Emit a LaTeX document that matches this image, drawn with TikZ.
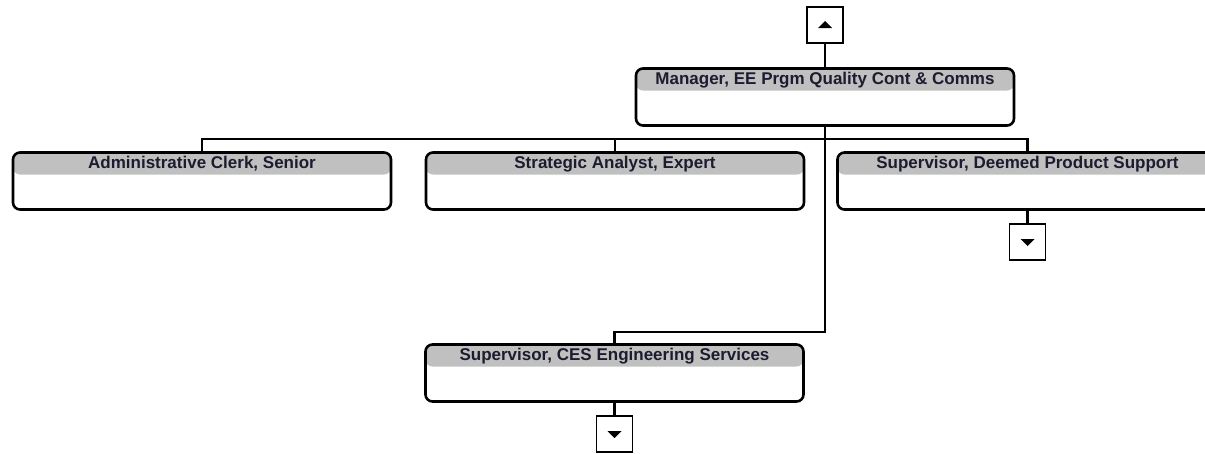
\documentclass[tikz,border=0pt]{standalone}
\usepackage{fontspec}
\setmainfont{Liberation Sans}
\definecolor{hdr}{HTML}{C0C0C0}
\definecolor{txt}{HTML}{1C1C30}
\begin{document}
\begin{tikzpicture}[x=1pt,y=-1pt,
  post/.style={draw=black, line width=2.6pt, rounded corners=7pt,
    minimum width=378pt, minimum height=57pt, inner sep=0pt,
    path picture={\fill[hdr] (path picture bounding box.north west) rectangle ([yshift=-22pt]path picture bounding box.north east);}},
  title/.style={anchor=base, inner sep=0pt, text=txt,
    font=\fontsize{17}{20}\selectfont\bfseries},
  nav/.style={draw=black, line width=1.4pt, fill=white, minimum width=36pt, minimum height=36pt, inner sep=0pt},
  wire/.style={draw=black, line width=2.6pt}]
\useasboundingbox (0,0) rectangle (1205,453);
\clip (0,0) rectangle (1205,453);
% boxes
\node[post] (mgr) at (825,97) {};
\node[post] (adm) at (202,181) {};
\node[post] (sa) at (615,181) {};
\node[post, minimum width=380pt] (dps) at (1027.5,181) {};
\node[post] (ces) at (614.5,373) {};
% titles
\node[title] (tmgr) at ([yshift=-17pt]mgr.north) {Manager, EE Prgm Quality Cont \& Comms};
\node[title] (tadm) at ([yshift=-17pt]adm.north) {Administrative Clerk, Senior};
\node[title] (tsa) at ([yshift=-17pt]sa.north) {Strategic Analyst, Expert};
\node[title] (tdps) at ([yshift=-17pt]dps.north) {Supervisor, Deemed Product Support};
\node[title] (tces) at ([yshift=-17pt]ces.north) {Supervisor, CES Engineering Services};
% navigation boxes
\node[nav] (up) at (825,25) {};
\node[nav] (d1) at (1027.5,242) {};
\node[nav] (d2) at (614.5,434) {};
\fill ([shift={(-7,3)}]up.center) -- ([shift={(7,3)}]up.center) -- ([shift={(0,-4)}]up.center) -- cycle;
\fill ([shift={(-7,-3)}]d1.center) -- ([shift={(7,-3)}]d1.center) -- ([shift={(0,4)}]d1.center) -- cycle;
\fill ([shift={(-7,-3)}]d2.center) -- ([shift={(7,-3)}]d2.center) -- ([shift={(0,4)}]d2.center) -- cycle;
% connectors
\coordinate (bus) at (0,139);
\coordinate (jn) at (0,332);
\draw[wire] (up.south) -- (mgr.north);
\draw[wire] (adm.north) -- (adm.north |- bus) -- (dps.north |- bus) -- (dps.north);
\draw[wire] (sa.north) -- (sa.north |- bus);
\draw[wire] (mgr.south) -- (mgr.south |- jn) -- (ces.north |- jn) -- (ces.north);
\draw[wire] (dps.south) -- (d1.north);
\draw[wire] (ces.south) -- (d2.north);
\end{tikzpicture}
\end{document}
